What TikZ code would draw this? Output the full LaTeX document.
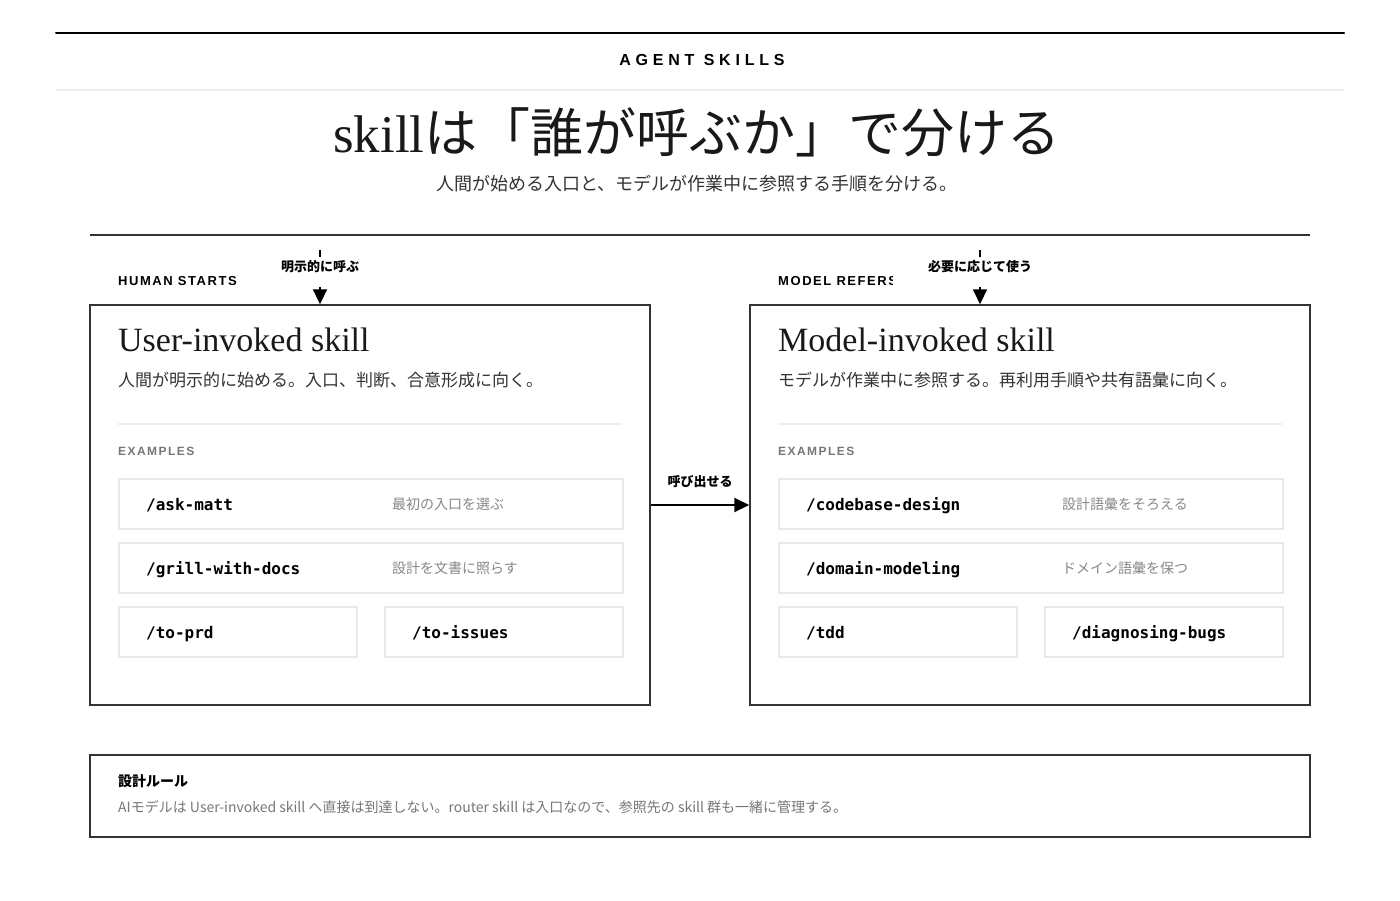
\documentclass[tikz,border=0pt]{standalone}
\usepackage{fontspec}
\usepackage{tikz}
\usepackage{xcolor}
\usetikzlibrary{arrows.meta,positioning}
\setmainfont{Liberation Serif}
\newfontfamily\jpfont{Noto Sans CJK JP}
\newfontfamily\wideCaps[LetterSpace=30]{Liberation Sans}
\newfontfamily\tagCaps[LetterSpace=12]{Liberation Sans}
\newfontfamily\codefont{DejaVu Sans Mono}
\definecolor{frame}{HTML}{333333}
\definecolor{itemline}{HTML}{E8E8E8}
\definecolor{softline}{HTML}{EEEEEE}
\definecolor{mutedtext}{HTML}{777777}
\definecolor{notetext}{HTML}{888888}
\definecolor{bodytext}{HTML}{333333}

\begin{document}
\begin{tikzpicture}[x=1pt, y=-1pt]
  \tikzstyle{myline}=[line cap=round, line join=round];
  \tikzstyle{panel}=[draw=frame, line width=1.5pt, minimum width=560pt, minimum height=400pt, inner sep=0pt];
  \tikzstyle{item}=[draw=itemline, line width=1.5pt, minimum height=50pt, anchor=north west, inner sep=0pt];
  \tikzstyle{flow}=[black, line width=2pt, -{Triangle[length=15pt, width=14pt]}];
  \tikzstyle{sectionTag}=[anchor=base west, inner sep=0pt, font=\tagCaps\bfseries\fontsize{13}{15}\selectfont];
  \tikzstyle{callTag}=[fill=white, inner xsep=0pt, inner ysep=0pt, minimum width=164pt, text height=14pt, text depth=16pt, font=\jpfont\bfseries\fontsize{13}{15}\selectfont];
  \tikzstyle{heading}=[anchor=base west, inner sep=0pt, text=black!90, font=\fontsize{34}{40}\selectfont];
  \tikzstyle{blurb}=[anchor=base west, inner sep=0pt, text=bodytext, font=\jpfont\fontsize{17}{20}\selectfont];
  \tikzstyle{kicker}=[anchor=base west, inner sep=0pt, text=mutedtext, font=\tagCaps\bfseries\fontsize{12}{14}\selectfont];
  \tikzstyle{cmd}=[anchor=base west, inner sep=0pt, font=\codefont\bfseries\fontsize{16}{19}\selectfont];
  \tikzstyle{note}=[anchor=base west, inner sep=0pt, text=notetext, font=\jpfont\fontsize{14}{17}\selectfont];
  %
  % canvas
  \fill[white] (0,0) rectangle (1400,900);
  \useasboundingbox (0,0) rectangle (1400,900);
  %
  % header
  \draw[myline, black, line width=2pt] (56,33) -- (1344,33);
  \node[anchor=base, inner sep=0pt, font=\wideCaps\bfseries\fontsize{16}{19}\selectfont] (kicker) at (702,65) {AGENT SKILLS};
  \draw[softline, line width=2pt] (56,90) -- (1344,90);
  \node[anchor=base, inner sep=0pt, text=black!90, font=\fontsize{53}{60}\selectfont] (title) at (697,152) {skill{\jpfont は「誰が呼ぶか」で分ける}};
  \node[anchor=base, inner sep=0pt, text=bodytext, font=\jpfont\fontsize{18}{21}\selectfont] (subtitle) at (697,190) {人間が始める入口と、モデルが作業中に参照する手順を分ける。};
  \draw[frame, line width=1.5pt] (90,235) -- (1310,235);
  %
  % user-invoked panel
  \begin{scope}
    \node[panel] (userPanel) at (370,505) {};
    \node[sectionTag] (humanTag) at (118,285) {HUMAN STARTS};
    \coordinate (userCall) at (320,250);
    \draw[flow] (userCall) -- (userCall |- userPanel.north);
    \node[callTag] (userCallTag) at (320,272) {明示的に呼ぶ};
    \node[heading] (userHead) at (118,351) {User-invoked skill};
    \node[blurb] (userBlurb) at (118,386) {人間が明示的に始める。入口、判断、合意形成に向く。};
    \draw[softline, line width=2pt] (118,424) -- (622,424);
    \node[kicker] (userKicker) at (118,455) {EXAMPLES};
    % examples
    \node[item, minimum width=504pt] (askItem) at (118,478) {};
    \node[cmd] (askCmd) at (146,510) {/ask-matt};
    \node[note] (askNote) at (392,509) {最初の入口を選ぶ};
    \node[item, minimum width=504pt] (grillItem) at (118,542) {};
    \node[cmd] (grillCmd) at (146,574) {/grill-with-docs};
    \node[note] (grillNote) at (392,573) {設計を文書に照らす};
    \node[item, minimum width=238pt] (prdItem) at (118,606) {};
    \node[cmd] (prdCmd) at (146,638) {/to-prd};
    \node[item, minimum width=238pt] (issuesItem) at (384,606) {};
    \node[cmd] (issuesCmd) at (412,638) {/to-issues};
  \end{scope}
  %
  % model-invoked panel
  \begin{scope}[shift={(660,0)}]
    \node[panel] (modelPanel) at (370,505) {};
    \node[sectionTag] (modelTag) at (118,285) {MODEL REFERS};
    \coordinate (modelCall) at (320,250);
    \draw[flow] (modelCall) -- (modelCall |- modelPanel.north);
    % the wider tag hides the tail of the section label
    \node[callTag, minimum width=174pt] (modelCallTag) at (320,272) {必要に応じて使う};
    \node[heading] (modelHead) at (118,351) {Model-invoked skill};
    \node[blurb] (modelBlurb) at (118,386) {モデルが作業中に参照する。再利用手順や共有語彙に向く。};
    \draw[softline, line width=2pt] (118,424) -- (622,424);
    \node[kicker] (modelKicker) at (118,455) {EXAMPLES};
    % examples
    \node[item, minimum width=504pt] (designItem) at (118,478) {};
    \node[cmd] (designCmd) at (146,510) {/codebase-design};
    \node[note] (designNote) at (402,509) {設計語彙をそろえる};
    \node[item, minimum width=504pt] (domainItem) at (118,542) {};
    \node[cmd] (domainCmd) at (146,574) {/domain-modeling};
    \node[note] (domainNote) at (402,573) {ドメイン語彙を保つ};
    \node[item, minimum width=238pt] (tddItem) at (118,606) {};
    \node[cmd] (tddCmd) at (146,638) {/tdd};
    \node[item, minimum width=238pt] (bugsItem) at (384,606) {};
    \node[cmd] (bugsCmd) at (412,638) {/diagnosing-bugs};
  \end{scope}
  %
  % user panel can call model panel
  \draw[flow] (userPanel.east) -- (modelPanel.west)
    node[midway, above=16pt, inner sep=0pt, font=\jpfont\bfseries\fontsize{13}{15}\selectfont] (invokeTag) {呼び出せる};
  %
  % design rule
  \node[draw=frame, line width=1.5pt, minimum width=1220pt, minimum height=82pt, inner sep=0pt] (rulePanel) at (700,796) {};
  \node[anchor=base west, inner sep=0pt, font=\jpfont\bfseries\fontsize{14}{17}\selectfont] (ruleHead) at (118,786) {設計ルール};
  \node[anchor=base west, inner sep=0pt, text=mutedtext, font=\jpfont\fontsize{14}{17}\selectfont] (ruleText) at (118,812) {AIモデルは User-invoked skill へ直接は到達しない。router skill は入口なので、参照先の skill 群も一緒に管理する。};
\end{tikzpicture}
\end{document}
